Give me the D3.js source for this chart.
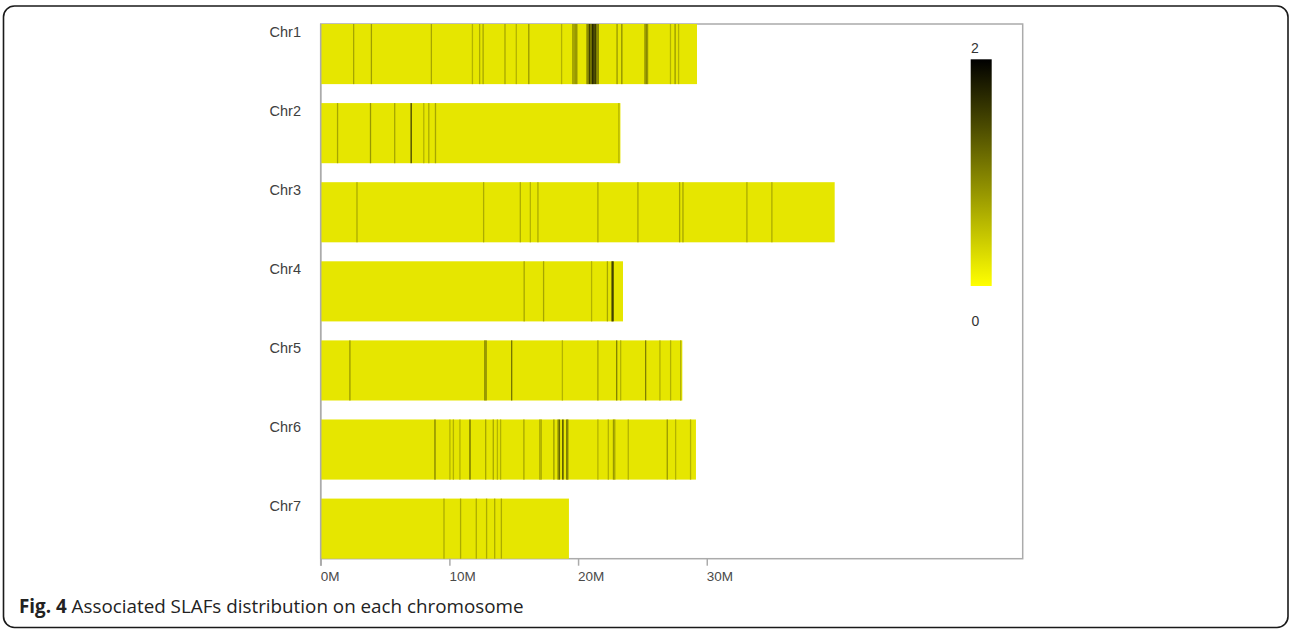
<!DOCTYPE html>
<html>
<head>
<meta charset="utf-8">
<script src="https://cdn.jsdelivr.net/npm/d3@7"></script>
<style>
  html, body { margin: 0; padding: 0; background: #ffffff; }
  svg { display: block; }
</style>
</head>
<body>
<svg id="chart" width="1290" height="630"></svg>
<script>
// ---------------- data ----------------
const chromosomes = ["Chr1", "Chr2", "Chr3", "Chr4", "Chr5", "Chr6", "Chr7"];
const chrLengths = [29.24, 23.29, 39.94, 23.49, 28.10, 29.16, 19.29]; // Mb

const chr1Pos = [2.51, 3.89, 8.55, 11.74, 12.30, 12.57, 14.27, 15.15, 16.12, 18.67,
                 19.55, 19.65, 19.75, 19.85, 20.65, 20.75, 20.85, 20.95, 21.05, 21.12,
                 21.22, 21.32, 21.42, 21.52, 22.98, 23.35, 25.15, 25.25, 25.35, 27.13, 27.49, 27.76];
const chr1Val = [0.7, 0.75, 0.7, 0.6, 0.65, 0.7, 0.7, 0.6, 0.8, 0.6,
                 0.9, 0.8, 0.8, 0.9, 1.1, 1.0, 1.5, 1.3, 1.6, 1.9,
                 1.4, 1.6, 1.2, 1.0, 0.8, 0.9, 0.9, 1.0, 0.8, 0.6, 0.8, 0.6];
const chr2Pos = [1.26, 3.82, 5.70, 6.98, 7.96, 8.35, 8.87, 23.12];
const chr2Val = [0.7, 0.8, 0.7, 1.5, 0.6, 0.65, 0.7, 0.6];
const chr3Pos = [2.77, 12.61, 15.46, 16.24, 16.83, 21.49, 24.60, 27.84, 28.10, 33.07, 35.01];
const chr3Val = [0.65, 0.65, 0.65, 0.6, 0.65, 0.65, 0.65, 0.7, 0.7, 0.65, 0.65];
const chr4Pos = [15.76, 17.27, 21.00, 22.23, 22.58, 22.66];
const chr4Val = [0.7, 0.7, 0.6, 0.7, 1.2, 1.8];
const chr5Pos = [2.22, 12.70, 12.80, 14.79, 18.73, 21.49, 22.95, 23.26, 25.20, 26.31, 27.14, 27.92];
const chr5Val = [0.8, 0.9, 1.0, 1.1, 0.6, 0.7, 1.0, 0.6, 1.0, 0.6, 0.6, 0.6];
const chr6Pos = [8.83, 9.99, 10.26, 10.77, 11.55, 12.77, 13.36, 13.68, 13.93, 15.74,
                 16.98, 17.08, 18.07, 18.40, 18.50, 18.77, 19.07, 19.15, 21.49, 22.30,
                 22.70, 22.80, 23.85, 26.88, 27.53, 28.69];
const chr6Val = [1.0, 0.6, 0.6, 0.6, 1.2, 0.7, 0.7, 0.6, 0.6, 0.7,
                 0.7, 0.7, 0.8, 1.0, 1.2, 1.6, 1.1, 1.0, 0.6, 0.6,
                 0.8, 0.7, 0.6, 0.8, 0.6, 0.6];
const chr7Pos = [9.53, 10.82, 12.04, 12.84, 13.47, 13.99];
const chr7Val = [0.65, 0.65, 0.65, 0.65, 0.65, 0.65];

const baseValue = 0.2;            // background density of chromosome body
const binWidth = 0.1;             // Mb per marker bin
const xTicks = [0, 10, 20, 30];
const xTickLabels = ["0M", "10M", "20M", "30M"];
const legendDomain = [0, 2];
const legendLabels = ["0", "2"];
const captionBold = "Fig. 4";
const captionText = " Associated SLAFs distribution on each chromosome";

const markerPos = [chr1Pos, chr2Pos, chr3Pos, chr4Pos, chr5Pos, chr6Pos, chr7Pos];
const markerVal = [chr1Val, chr2Val, chr3Val, chr4Val, chr5Val, chr6Val, chr7Val];

// ---------------- layout ----------------
const svg = d3.select("#chart");
const panel = { left: 320.7, right: 1022.7, top: 24, bottom: 558.7 };
const axisColor = "#ababab";

const x = d3.scaleLinear().domain([0, 54.55]).range([panel.left, panel.right]);
const y = d3.scaleBand().domain(chromosomes).range([panel.top, panel.bottom])
  .paddingInner(0.24).paddingOuter(0);
const color = d3.scaleLinear().domain(legendDomain).range(["#ffff00", "#000000"]);

// outer figure frame
svg.append("rect")
  .attr("x", 3.5).attr("y", 6).attr("width", 1284.5).attr("height", 621.5)
  .attr("rx", 11).attr("ry", 11)
  .attr("fill", "none").attr("stroke", "#1a1a1a").attr("stroke-width", 1.6);

// panel border
svg.append("rect")
  .attr("x", panel.left).attr("y", panel.top)
  .attr("width", panel.right - panel.left).attr("height", panel.bottom - panel.top)
  .attr("fill", "none").attr("stroke", axisColor).attr("stroke-width", 1.5);

// chromosome bodies
const rows = chromosomes.map((c, i) => ({
  name: c, len: chrLengths[i],
  markers: markerPos[i].map((p, j) => ({ pos: p, val: markerVal[i][j] }))
}));

const g = svg.append("g");
const row = g.selectAll("g.row").data(rows).join("g").attr("class", "row");

row.append("rect")
  .attr("x", x(0)).attr("y", d => y(d.name))
  .attr("width", d => x(d.len) - x(0)).attr("height", y.bandwidth())
  .attr("fill", color(baseValue));

row.selectAll("rect.marker")
  .data(d => d.markers.map(m => ({ ...m, name: d.name })))
  .join("rect").attr("class", "marker")
  .attr("x", m => x(m.pos))
  .attr("y", m => y(m.name))
  .attr("width", x(binWidth) - x(0))
  .attr("height", y.bandwidth())
  .attr("fill", m => color(m.val));

// left axis line (visible between bars)
svg.append("line")
  .attr("x1", panel.left).attr("x2", panel.left)
  .attr("y1", panel.top).attr("y2", panel.bottom + 7)
  .attr("stroke", axisColor).attr("stroke-width", 1.5);

// chromosome labels
row.append("text")
  .attr("x", 301).attr("y", d => y(d.name) + 12.5)
  .attr("text-anchor", "end")
  .attr("font-family", "'Liberation Sans', Arial, sans-serif")
  .attr("font-size", 14.5)
  .attr("fill", "#404040")
  .text(d => d.name);

// x axis
const xAxis = svg.append("g").attr("transform", `translate(0,${panel.bottom})`)
  .call(d3.axisBottom(x).tickValues(xTicks)
    .tickFormat((d, i) => xTickLabels[i]).tickSize(7).tickSizeOuter(0));
xAxis.select(".domain").remove();
xAxis.selectAll(".tick line").attr("stroke", axisColor).attr("stroke-width", 1.5);
xAxis.selectAll(".tick text")
  .attr("text-anchor", "start").attr("x", -0.5).attr("dy", 0).attr("y", 22.5)
  .attr("font-family", "'Liberation Sans', Arial, sans-serif")
  .attr("font-size", 13.5).attr("fill", "#4a4a4a");

// legend colour bar
const legendScale = d3.scaleLinear().domain(legendDomain).range([286, 59.3]);
const defs = svg.append("defs");
const grad = defs.append("linearGradient").attr("id", "legendGrad")
  .attr("x1", 0).attr("y1", 1).attr("x2", 0).attr("y2", 0);
d3.range(0, 1.0001, 0.1).forEach(t => {
  grad.append("stop").attr("offset", t)
    .attr("stop-color", color(legendDomain[0] + t * (legendDomain[1] - legendDomain[0])));
});
svg.append("rect")
  .attr("x", 970.7).attr("y", legendScale(legendDomain[1]))
  .attr("width", 21).attr("height", legendScale(legendDomain[0]) - legendScale(legendDomain[1]))
  .attr("fill", "url(#legendGrad)");

svg.append("text").attr("x", 971).attr("y", 53.3)
  .attr("font-family", "'Liberation Sans', Arial, sans-serif")
  .attr("font-size", 14).attr("fill", "#333").text(legendLabels[1]);
svg.append("text").attr("x", 971.5).attr("y", 326)
  .attr("font-family", "'Liberation Sans', Arial, sans-serif")
  .attr("font-size", 14).attr("fill", "#333").text(legendLabels[0]);

// caption
const cap = svg.append("text").attr("x", 19).attr("y", 613)
  .attr("font-family", "'Open Sans', 'Noto Sans', sans-serif")
  .attr("font-size", 16).attr("fill", "#222");
cap.append("tspan").attr("font-weight", "bold").text(captionBold);
cap.append("tspan").text(captionText);
const capLen = cap.node().getComputedTextLength();
const targetLen = 505;
cap.attr("font-size", 16 * targetLen / capLen);
</script>
</body>
</html>
